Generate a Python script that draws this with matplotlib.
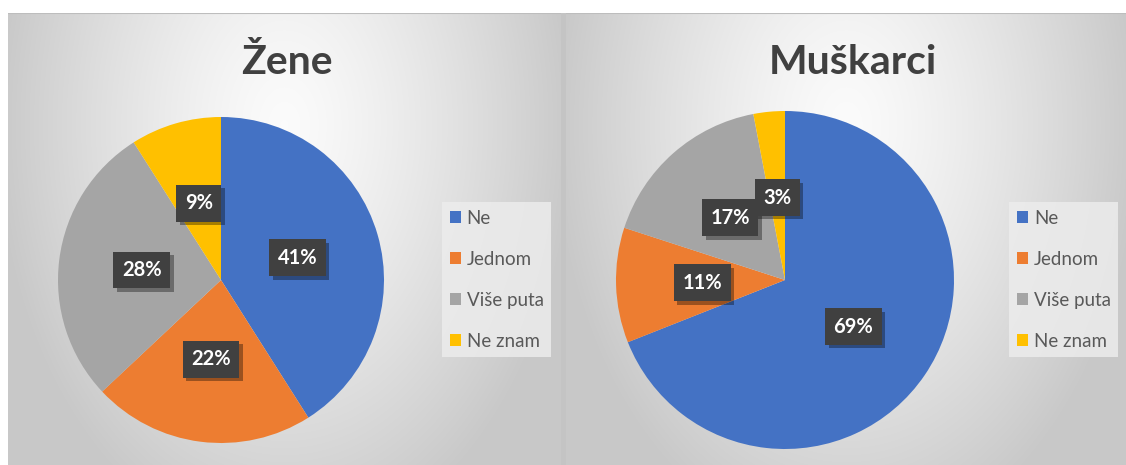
import numpy as np
import matplotlib
matplotlib.use("Agg")
import matplotlib.pyplot as plt
import matplotlib.patheffects as pe
from matplotlib.patches import Patch

plt.rcParams['font.family'] = ['Lato', 'DejaVu Sans']

# podaci
kategorije = ['Ne', 'Jednom', 'Više puta', 'Ne znam']
zene = [41, 22, 28, 9]
muskarci = [69, 11, 17, 3]
naslovi = ['Žene', 'Muškarci']
boje = ['#4472C4', '#ED7D31', '#A5A5A5', '#FFC000']

W, H = 1126, 465
fig = plt.figure(figsize=(W / 100, H / 100), dpi=100)
fig.patch.set_facecolor('white')


def px_axes(x0, y0, x1, y1, **kw):
    # pravokutnik u pikselima (gore-lijevo ishodište) -> osi
    return fig.add_axes([x0 / W, 1 - y1 / H, (x1 - x0) / W, (y1 - y0) / H], **kw)


def pozadina(x0, y0, x1, y1):
    ax = px_axes(x0, y0, x1, y1)
    w, h = x1 - x0, y1 - y0
    xx, yy = np.meshgrid(np.linspace(-1, 1, w), np.linspace(0, 1, h))
    d = np.sqrt((xx / 1.05) ** 2 + ((yy - 0.25) / 0.95) ** 2)
    d = np.clip(d, 0, 1)
    c = 0.985 - 0.20 * d ** 1.3
    ax.imshow(np.dstack([c, c, c]), aspect='auto', extent=[0, 1, 0, 1], origin='upper')
    ax.plot([0, 1], [1, 1], color='#bdbdbd', lw=1.5, transform=ax.transAxes)
    ax.set_axis_off()
    return ax


pozadina(8, 13, 561, 465)
pozadina(566, 13, 1126, 465)
fig.patches.append(plt.Rectangle((561 / W, 0), 5 / W, 1 - 13 / H, transform=fig.transFigure,
                                 facecolor='#c4c4c4', edgecolor='none'))

paneli = [
    (zene, (221, 280), 163, 287, 433),
    (muskarci, (785, 280), 169, 853, 1000),
]

for (vrijednosti, (cx, cy), r, tx, lx), naslov in zip(paneli, naslovi):
    ax = px_axes(cx - r, cy - r, cx + r, cy + r)
    ax.patch.set_alpha(0)
    wedges, _, autotexts = ax.pie(
        vrijednosti, colors=boje, startangle=90, counterclock=False,
        autopct='%1.0f%%', pctdistance=0.49,
        wedgeprops=dict(linewidth=0),
        textprops=dict(color='white', fontsize=14.5, fontweight='bold'))
    for t in autotexts:
        t.set_bbox(dict(boxstyle='square,pad=0.42', facecolor='#404040', edgecolor='none'))
        t.get_bbox_patch().set_path_effects([
            pe.SimplePatchShadow(offset=(2.5, -2.5), shadow_rgbFace='black', alpha=0.35),
            pe.Normal()])
    ax.set_xlim(-1, 1)
    ax.set_ylim(-1, 1)
    ax.set_axis_off()

    fig.text(tx / W, 1 - 62 / H, naslov, ha='center', va='center',
             fontsize=29.5, fontweight='bold', color='#404040')

    rucke = [Patch(facecolor=b, edgecolor='none') for b in boje]
    leg = fig.legend(rucke, kategorije, loc='upper left',
                     bbox_to_anchor=(lx / W, 1 - 193 / H),
                     frameon=True, fontsize=13.5, labelspacing=1.28,
                     handlelength=0.6, handleheight=0.6, handletextpad=0.3,
                     borderpad=0.4, fancybox=False)
    leg.get_frame().set_facecolor('#ececec')
    leg.get_frame().set_edgecolor('none')
    leg.get_frame().set_alpha(0.85)
    for t in leg.get_texts():
        t.set_color('#595959')

fig.savefig('out.png', dpi=100)
